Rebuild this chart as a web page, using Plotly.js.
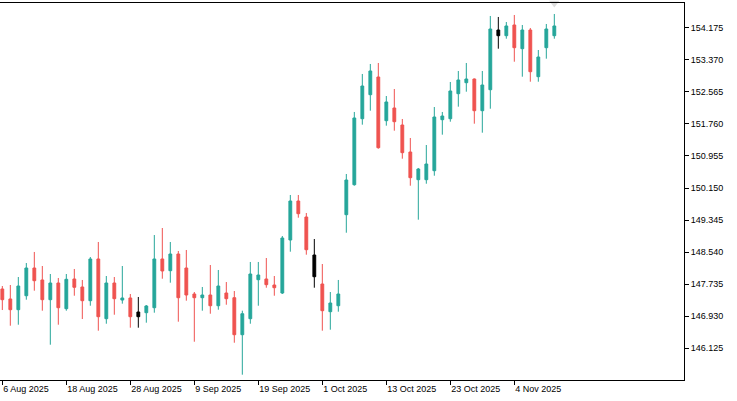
<!DOCTYPE html>
<html>
<head>
<meta charset="utf-8">
<script src="https://cdn.plot.ly/plotly-3.0.1.min.js"></script>
<style>
  html, body { margin: 0; padding: 0; background: #fff; }
  #chart { width: 737px; height: 401px; }
</style>
</head>
<body>
<div id="chart"></div>
<script>
// daily bars, 6 Aug 2025 .. 11 Nov 2025
var dates = [
  '2025-08-06', '2025-08-07', '2025-08-08', '2025-08-11', '2025-08-12', '2025-08-13', '2025-08-14', '2025-08-15',
  '2025-08-18', '2025-08-19', '2025-08-20', '2025-08-21', '2025-08-22', '2025-08-25', '2025-08-26', '2025-08-27',
  '2025-08-28', '2025-08-29', '2025-09-01', '2025-09-02', '2025-09-03', '2025-09-04', '2025-09-05', '2025-09-08',
  '2025-09-09', '2025-09-10', '2025-09-11', '2025-09-12', '2025-09-15', '2025-09-16', '2025-09-17', '2025-09-18',
  '2025-09-19', '2025-09-22', '2025-09-23', '2025-09-24', '2025-09-25', '2025-09-26', '2025-09-29', '2025-09-30',
  '2025-10-01', '2025-10-02', '2025-10-03', '2025-10-06', '2025-10-07', '2025-10-08', '2025-10-09', '2025-10-10',
  '2025-10-13', '2025-10-14', '2025-10-15', '2025-10-16', '2025-10-17', '2025-10-20', '2025-10-21', '2025-10-22',
  '2025-10-23', '2025-10-24', '2025-10-27', '2025-10-28', '2025-10-29', '2025-10-30', '2025-10-31', '2025-11-03',
  '2025-11-04', '2025-11-05', '2025-11-06', '2025-11-07', '2025-11-10', '2025-11-11'
]

var open = [
  147.615, 147.364, 147.095, 147.446, 148.142, 147.841, 147.346, 147.765,
  147.120, 147.866, 147.665, 147.321, 148.368, 146.869, 147.765, 147.338,
  147.389, 147.037, 147.020, 147.145, 148.368, 148.074, 148.493, 148.142,
  147.489, 147.396, 147.464, 147.195, 147.514, 147.396, 146.467, 146.869,
  147.848, 147.866, 147.715, 147.514, 148.845, 149.824, 149.422, 148.468,
  147.740, 147.045, 147.195, 149.480, 150.233, 151.890, 152.493, 152.937,
  151.840, 152.159, 151.732, 151.054, 150.359, 150.359, 150.585, 151.865,
  151.890, 152.518, 152.794, 152.887, 152.091, 152.618, 154.117, 153.974,
  154.243, 153.648, 154.117, 152.945, 153.673, 153.974
]
var high = [
  147.690, 147.715, 147.916, 148.267, 148.544, 148.192, 147.991, 147.891,
  147.991, 148.117, 147.841, 148.418, 148.795, 147.941, 147.916, 148.192,
  147.489, 147.414, 147.213, 148.970, 149.146, 148.795, 148.569, 148.594,
  147.539, 147.665, 148.217, 148.092, 147.790, 147.564, 147.070, 148.293,
  148.293, 148.393, 147.941, 148.945, 149.975, 149.975, 149.523, 148.870,
  148.242, 147.539, 147.841, 150.502, 152.059, 153.013, 153.264, 153.289,
  152.460, 152.636, 151.883, 151.406, 150.653, 151.230, 152.184, 152.059,
  152.812, 153.088, 153.289, 152.900, 153.088, 154.469, 154.444, 154.318,
  154.494, 154.243, 154.168, 153.615, 154.268, 154.519
]
var low = [
  147.087, 146.693, 146.718, 147.346, 147.572, 147.070, 146.216, 146.718,
  147.070, 147.446, 146.861, 147.195, 146.568, 146.743, 146.969, 147.246,
  146.643, 146.643, 146.769, 147.020, 147.873, 147.773, 146.794, 147.321,
  146.291, 147.070, 146.994, 147.095, 147.220, 146.266, 145.463, 146.743,
  147.195, 147.647, 147.446, 147.489, 148.551, 149.405, 148.476, 147.647,
  146.568, 146.593, 147.045, 149.028, 150.208, 151.740, 152.091, 151.137,
  151.715, 151.589, 150.886, 150.208, 149.355, 150.258, 150.459, 151.489,
  151.815, 152.192, 152.568, 151.765, 151.539, 152.141, 153.648, 153.899,
  153.321, 152.945, 152.819, 152.819, 153.397, 153.899
]
var close = [
  147.346, 147.095, 147.690, 148.142, 147.823, 147.346, 147.765, 147.145,
  147.858, 147.657, 147.321, 148.368, 146.919, 147.765, 147.371, 147.389,
  146.919, 146.919, 147.188, 148.368, 148.067, 148.493, 147.396, 147.464,
  147.396, 147.464, 147.195, 147.690, 147.371, 146.467, 146.994, 147.991,
  147.966, 147.723, 147.647, 148.895, 149.824, 149.505, 148.601, 147.923,
  147.070, 147.263, 147.489, 150.351, 151.908, 152.711, 153.088, 151.162,
  152.310, 151.815, 151.037, 150.409, 150.627, 150.753, 151.933, 151.958,
  152.586, 152.862, 152.887, 152.091, 152.736, 154.142, 153.974, 154.218,
  153.673, 154.117, 153.070, 153.439, 154.142, 154.218
]

// bars the terminal painted in black
var blackBars = [17, 39, 62]

var xTickVals = ['2025-08-06', '2025-08-18', '2025-08-28', '2025-09-09', '2025-09-19', '2025-10-01', '2025-10-13', '2025-10-23', '2025-11-04']
var xTickText = ['6 Aug 2025', '18 Aug 2025', '28 Aug 2025', '9 Sep 2025', '19 Sep 2025', '1 Oct 2025', '13 Oct 2025', '23 Oct 2025', '4 Nov 2025']
var yTickVals = [146.125, 146.930, 147.735, 148.540, 149.345, 150.150, 150.955, 151.760, 152.565, 153.370, 154.175]

var yRange = [145.33, 154.795]

function pick (arr, idx) {
  return idx.map(function (i) { return arr[i] })
}

var mainIdx = []
for (var i = 0; i < dates.length; i++) {
  if (blackBars.indexOf(i) < 0) mainIdx.push(i)
}

var green = '#26a69a'
var red = '#ef5350'

var traces = [
  {
    type: 'candlestick',
    x: pick(dates, mainIdx),
    open: pick(open, mainIdx),
    high: pick(high, mainIdx),
    low: pick(low, mainIdx),
    close: pick(close, mainIdx),
    increasing: { line: { color: green, width: 1 }, fillcolor: green },
    decreasing: { line: { color: red, width: 1 }, fillcolor: red },
    hoverinfo: 'skip',
    showlegend: false
  },
  {
    type: 'candlestick',
    x: pick(dates, blackBars),
    open: pick(open, blackBars),
    high: pick(high, blackBars),
    low: pick(low, blackBars),
    close: pick(close, blackBars),
    increasing: { line: { color: '#000', width: 1 }, fillcolor: '#000' },
    decreasing: { line: { color: '#000', width: 1 }, fillcolor: '#000' },
    hoverinfo: 'skip',
    showlegend: false
  },
  {
    // little grey marker at the top over the last bar
    type: 'scatter',
    mode: 'markers',
    x: [dates[dates.length - 1]],
    y: [yRange[1]],
    marker: { symbol: 'triangle-down', size: 9, color: '#dcdcdc' },
    cliponaxis: false,
    hoverinfo: 'skip',
    showlegend: false
  }
]

var tickFont = { family: 'Liberation Sans, Arial, sans-serif', size: 9, color: '#000' }

var layout = {
  width: 737,
  height: 401,
  margin: { l: 0, r: 53, t: 3, b: 21 },
  paper_bgcolor: '#fff',
  plot_bgcolor: '#fff',
  showlegend: false,
  boxgap: 0.5,
  xaxis: {
    type: 'category',
    categoryorder: 'array',
    categoryarray: dates,
    range: [-0.29, 85.21],
    rangeslider: { visible: false },
    showgrid: false,
    zeroline: false,
    showline: true,
    mirror: true,
    linecolor: '#000',
    linewidth: 1,
    ticks: 'outside',
    ticklen: 4,
    tickcolor: '#000',
    tickvals: xTickVals,
    ticktext: xTickText,
    ticklabelposition: 'outside right',
    tickfont: tickFont,
    fixedrange: true
  },
  yaxis: {
    side: 'right',
    range: yRange,
    showgrid: false,
    zeroline: false,
    showline: true,
    linecolor: '#000',
    linewidth: 1,
    ticks: 'outside',
    ticklen: 4,
    tickcolor: '#000',
    tickvals: yTickVals,
    tickformat: '.3f',
    tickfont: tickFont,
    fixedrange: true
  }
}

Plotly.newPlot('chart', traces, layout, { displayModeBar: false, staticPlot: true })
</script>
</body>
</html>
